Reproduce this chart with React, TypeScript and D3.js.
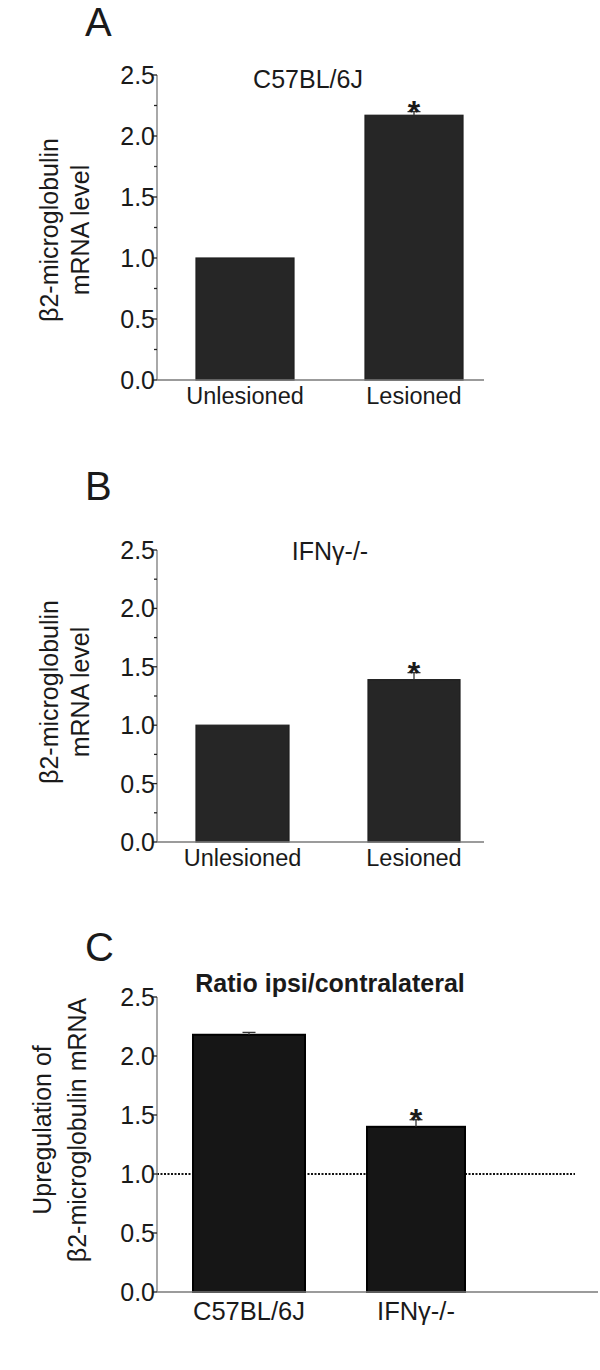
import React from "react";
import * as d3 from "d3";

const panelA_categories = ["Unlesioned", "Lesioned"];
const panelA_values = [1.0, 2.17];
const panelA_errors = [0, 0.03];
const panelA_sig = [false, true];

const panelB_categories = ["Unlesioned", "Lesioned"];
const panelB_values = [1.0, 1.39];
const panelB_errors = [0, 0.06];
const panelB_sig = [false, true];

const panelC_categories = ["C57BL/6J", "IFNγ-/-"];
const panelC_values = [2.18, 1.4];
const panelC_errors = [0.02, 0.06];
const panelC_sig = [false, true];

const yTicks = [0, 0.5, 1.0, 1.5, 2.0, 2.5];
const yMinorTicks = [0.25, 0.75, 1.25, 1.75, 2.25];

type PanelProps = {
  letter: string;
  letterY: number;
  title: string;
  titleX: number;
  titleY: number;
  titleBold?: boolean;
  titleSize: number;
  yLabel: string[];
  yLabelX: number[];
  yLabelY: number;
  categories: string[];
  values: number[];
  errors: number[];
  sig: boolean[];
  top: number;
  bottom: number;
  xEnd: number;
  xLabelDy: number;
  xLabelSize: number;
  barX: [number, number][];
  minor: boolean;
  barFill: string;
  barStroke: string;
  barStrokeWidth: number;
  refLine?: number;
  refLineEnd?: number;
};

const FONT = "Arial, 'Liberation Sans', Helvetica, sans-serif";
const INK = "#1a1a1a";

function Panel(p: PanelProps) {
  const axisX = 157;
  const y = d3.scaleLinear().domain([0, 2.5]).range([p.bottom, p.top]);
  return (
    <g>
      <text x={85} y={p.letterY} fontSize={40} fontFamily={FONT} fill={INK}>
        {p.letter}
      </text>
      <text
        x={p.titleX}
        y={p.titleY}
        fontSize={p.titleSize}
        fontFamily={FONT}
        fontWeight={p.titleBold ? "bold" : "normal"}
        textAnchor="middle"
        fill={INK}
      >
        {p.title}
      </text>
      {p.yLabel.map((l, i) => (
        <text
          key={i}
          transform={`translate(${p.yLabelX[i]},${p.yLabelY}) rotate(-90)`}
          fontSize={25}
          fontFamily={FONT}
          textAnchor="middle"
          dominantBaseline="central"
          fill={INK}
        >
          {l}
        </text>
      ))}
      {p.refLine !== undefined && (
        <line
          x1={axisX}
          x2={p.refLineEnd}
          y1={y(p.refLine)}
          y2={y(p.refLine)}
          stroke="#111"
          strokeWidth={2}
          strokeDasharray="2,1.5"
        />
      )}
      {p.values.map((v, i) => {
        const [x0, x1] = p.barX[i];
        const cx = (x0 + x1) / 2;
        const capY = y(v + p.errors[i]);
        return (
          <g key={i}>
            <rect
              x={x0}
              y={y(v)}
              width={x1 - x0}
              height={y(0) - y(v)}
              fill={p.barFill}
              stroke={p.barStroke}
              strokeWidth={p.barStrokeWidth}
            />
            {p.errors[i] > 0 && (
              <g stroke="#333" strokeWidth={1.3}>
                <line x1={cx} x2={cx} y1={y(v)} y2={capY} />
                <line x1={cx - 6.5} x2={cx + 6.5} y1={capY} y2={capY} />
              </g>
            )}
            {p.sig[i] && (
              <text
                x={cx}
                y={capY + 11}
                fontSize={32}
                fontWeight="bold"
                fontFamily={FONT}
                textAnchor="middle"
                fill={INK}
              >
                *
              </text>
            )}
            <text
              x={cx}
              y={p.bottom + p.xLabelDy}
              fontSize={p.xLabelSize}
              fontFamily={FONT}
              textAnchor="middle"
              fill={INK}
            >
              {p.categories[i]}
            </text>
          </g>
        );
      })}
      <line x1={axisX} x2={axisX} y1={p.top} y2={p.bottom} stroke="#7a7a7a" strokeWidth={1.3} />
      <line x1={axisX} x2={p.xEnd} y1={p.bottom} y2={p.bottom} stroke="#7a7a7a" strokeWidth={1.3} />
      {yTicks.map((t) => (
        <g key={t}>
          <line x1={axisX - 5} x2={axisX} y1={y(t)} y2={y(t)} stroke="#222" strokeWidth={1.3} />
          <text
            x={axisX - 2}
            y={y(t)}
            fontSize={25}
            fontFamily={FONT}
            textAnchor="end"
            dominantBaseline="central"
            fill={INK}
          >
            {t.toFixed(1)}
          </text>
        </g>
      ))}
      {p.minor &&
        yMinorTicks.map((t) => (
          <line key={t} x1={axisX - 3} x2={axisX} y1={y(t)} y2={y(t)} stroke="#222" strokeWidth={1.3} />
        ))}
    </g>
  );
}

export default function App() {
  return (
    <svg width={600} height={1370} style={{ position: "absolute", left: 0, top: 0, background: "#fff" }}>
      <rect width={600} height={1370} fill="#fff" />
      <Panel
        letter="A"
        letterY={36}
        title="C57BL/6J"
        titleX={308}
        titleY={88}
        titleSize={25}
        yLabel={["β2-microglobulin", "mRNA level"]}
        yLabelX={[49, 80]}
        yLabelY={230}
        categories={panelA_categories}
        values={panelA_values}
        errors={panelA_errors}
        sig={panelA_sig}
        top={75}
        bottom={380}
        xEnd={484}
        xLabelDy={24}
        xLabelSize={23.5}
        barX={[[196, 294], [365, 463]]}
        minor={true}
        barFill="#262626"
        barStroke="#1e1e1e"
        barStrokeWidth={1.2}
      />
      <Panel
        letter="B"
        letterY={500}
        title="IFNγ-/-"
        titleX={330}
        titleY={560}
        titleSize={25}
        yLabel={["β2-microglobulin", "mRNA level"]}
        yLabelX={[49, 80]}
        yLabelY={692}
        categories={panelB_categories}
        values={panelB_values}
        errors={panelB_errors}
        sig={panelB_sig}
        top={550}
        bottom={842}
        xEnd={484}
        xLabelDy={24}
        xLabelSize={23.5}
        barX={[[196, 289], [368, 460]]}
        minor={true}
        barFill="#262626"
        barStroke="#1e1e1e"
        barStrokeWidth={1.2}
      />
      <Panel
        letter="C"
        letterY={961}
        title="Ratio ipsi/contralateral"
        titleX={330}
        titleY={992}
        titleBold={true}
        titleSize={25}
        yLabel={["Upregulation of", "β2-microglobulin mRNA"]}
        yLabelX={[42, 77]}
        yLabelY={1130}
        categories={panelC_categories}
        values={panelC_values}
        errors={panelC_errors}
        sig={panelC_sig}
        top={997}
        bottom={1292}
        xEnd={598}
        xLabelDy={28}
        xLabelSize={25.5}
        barX={[[193, 305], [367, 465]]}
        minor={false}
        barFill="#161616"
        barStroke="#000"
        barStrokeWidth={2}
        refLine={1.0}
        refLineEnd={575}
      />
    </svg>
  );
}
